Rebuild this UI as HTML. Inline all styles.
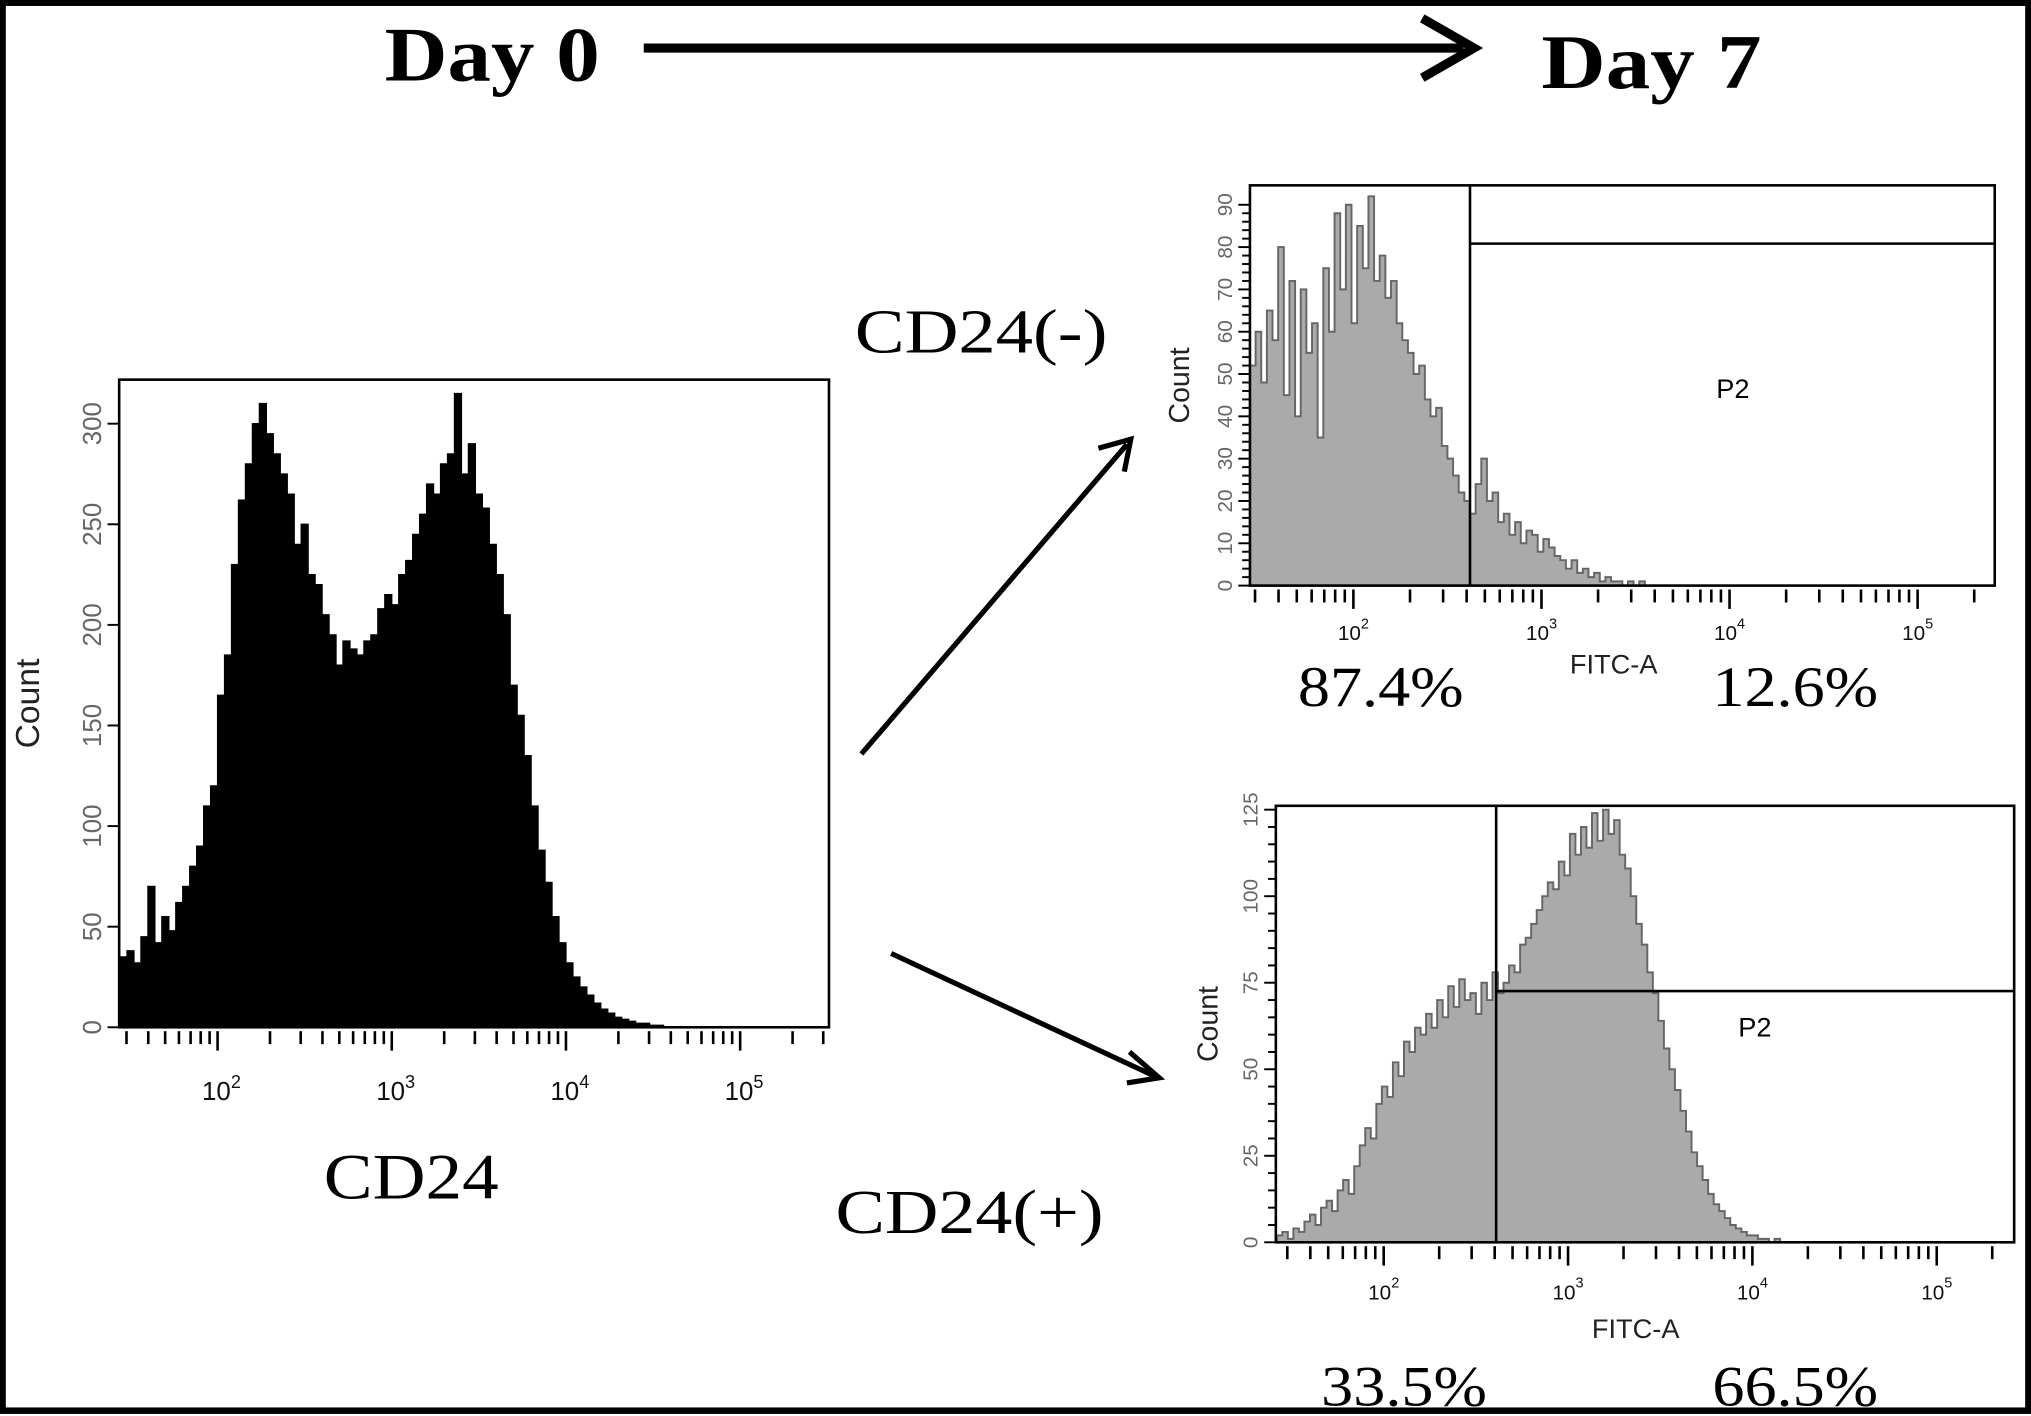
<!DOCTYPE html>
<html><head><meta charset="utf-8"><style>
html,body{margin:0;padding:0;background:#fff;}
svg{display:block;}
</style></head><body>
<svg id="fig" width="2031" height="1416" viewBox="0 0 1568 1093" xmlns="http://www.w3.org/2000/svg" font-family="Liberation Sans, sans-serif">
<rect x="2" y="2" width="1564" height="1087" fill="#fff" stroke="#000" stroke-width="5"/>
<text x="297" y="62" font-family="Liberation Serif, serif" font-weight="bold" font-size="60" textLength="166" lengthAdjust="spacingAndGlyphs">Day 0</text>
<g>
<line x1="497" y1="37" x2="1130" y2="37" stroke="#000" stroke-width="7"/>
<polyline points="1098,14 1138,37 1098,60" fill="none" stroke="#000" stroke-width="7"/>
</g>
<text x="1190" y="68" font-family="Liberation Serif, serif" font-weight="bold" font-size="60" textLength="170" lengthAdjust="spacingAndGlyphs">Day 7</text>
<g>
<line x1="665" y1="582" x2="870" y2="343" stroke="#000" stroke-width="4"/>
<polyline points="848,346 873,339 868,364" fill="none" stroke="#000" stroke-width="4"/>
</g>
<g>
<line x1="688" y1="736" x2="892" y2="831" stroke="#000" stroke-width="4"/>
<polyline points="872,812 895,832 870,836" fill="none" stroke="#000" stroke-width="4"/>
</g>
<text x="660" y="272" font-family="Liberation Serif, serif" font-size="48" textLength="195" lengthAdjust="spacingAndGlyphs">CD24(-)</text>
<text x="645" y="952" font-family="Liberation Serif, serif" font-size="48" textLength="207" lengthAdjust="spacingAndGlyphs">CD24(+)</text>
<text x="250" y="925" font-family="Liberation Serif, serif" font-size="50" textLength="135" lengthAdjust="spacingAndGlyphs">CD24</text>
<text x="1002" y="545" font-family="Liberation Serif, serif" font-size="44" textLength="128" lengthAdjust="spacingAndGlyphs">87.4%</text>
<text x="1322" y="545" font-family="Liberation Serif, serif" font-size="44" textLength="128" lengthAdjust="spacingAndGlyphs">12.6%</text>
<text x="1020" y="1085" font-family="Liberation Serif, serif" font-size="44" textLength="128" lengthAdjust="spacingAndGlyphs">33.5%</text>
<text x="1322" y="1085" font-family="Liberation Serif, serif" font-size="44" textLength="128" lengthAdjust="spacingAndGlyphs">66.5%</text>
</svg>
<script>
// Day 0 histogram (log10 bins starting at 1.44, step 0.04)
const day0Start = 1.44, day0Step = 0.04;
const day0Counts = [35,38,32,45,70,42,55,48,62,70,80,90,110,120,165,185,230,262,280,300,310,295,285,275,265,240,250,225,220,205,195,180,192,188,185,192,195,208,215,210,225,232,245,255,270,265,280,285,315,275,290,265,258,240,225,205,170,155,135,110,88,72,55,42,32,25,20,16,12,9,7,5,4,3,2,2,1,1,0,0];
// CD24(-) day 7 (start 1.45, step 0.03)
const negStart = 1.45, negStep = 0.03;
const negCounts = [52,60,48,65,58,80,45,72,40,70,55,62,35,75,60,88,70,90,62,85,75,92,72,78,68,72,62,58,55,50,52,44,40,42,33,30,26,22,20,17,24,30,20,22,15,17,12,15,10,13,12,8,11,9,7,6,4,6,3,4,2,3,1,2,1,1,0,1,0,1,0,0,0];
// CD24(+) day 7 (start 1.42, step 0.03)
const posStart = 1.42, posStep = 0.03;
const posCounts = [2,3,1,4,3,6,8,5,10,12,9,15,18,14,22,28,33,30,40,45,42,52,48,58,55,62,60,66,62,70,65,74,68,76,70,72,66,75,70,78,72,75,80,78,86,88,92,96,100,104,102,110,106,118,112,120,114,124,116,125,118,122,112,108,100,92,86,78,72,64,56,50,44,38,32,26,22,18,14,11,9,7,5,4,3,2,2,1,1,0,1,0];
const day0YTicks = [0,50,100,150,200,250,300];
const negYTicks = [0,10,20,30,40,50,60,70,80,90];
const posYTicks = [0,25,50,75,100,125];
const decades = [2,3,4,5];

const NS = "http://www.w3.org/2000/svg";
const svg = document.getElementById('fig');
function mk(tag, attrs, parent){const e=document.createElementNS(NS,tag);for(const k in attrs)e.setAttribute(k,attrs[k]);(parent||svg).appendChild(e);return e;}

function drawPanel(p){
  const g = mk('g',{});
  
  
  const xs = v => p.x0 + (v - p.lmin) / (p.lmax - p.lmin) * (p.x1 - p.x0);
  const ys = v => p.yb - (v / p.ymax) * (p.yb - p.yt);
  let d = 'M' + xs(p.start) + ',' + ys(0);
  p.counts.forEach((c,i)=>{const a=xs(p.start+i*p.step), b=xs(p.start+(i+1)*p.step); d+=' L'+a+','+ys(c)+' L'+b+','+ys(c);});
  d += ' L' + xs(p.start + p.counts.length*p.step) + ',' + ys(0) + ' Z';
  const h = mk('path',{d:d, fill:p.fill, stroke:p.stroke, 'stroke-width':p.sw}, g);
  
  
  const fr = mk('rect',{x:p.x0,y:p.yt0,width:p.x1-p.x0,height:p.yb-p.yt0,fill:'none',stroke:'#000','stroke-width':2}, g);
  
  
  for(let dec=1; dec<=5; dec++){
    for(let m=1;m<=9;m++){
      const lv = dec + Math.log10(m);
      if(lv < p.lmin || lv > p.lmax) continue;
      const x = xs(lv);
      mk('line',{x1:x,y1:p.yb+3,x2:x,y2:p.yb+(m===1?18:13),stroke:'#000','stroke-width':2}, g);
    }
  }
  decades.forEach(dec=>{
    const x = xs(dec);
    const t = mk('text',{x:x-12,y:p.yb+p.lblOff,'font-size':p.fs,fill:'#111'}, g);
    t.textContent = '10';
    
    
    const s = mk('tspan',{dy:-9,'font-size':p.fs*0.7}, t);
    s.textContent = String(dec);
  });
  for(let v=0; v<=p.ymax; v+=p.minor){
    const y = ys(v);
    if(y < p.yt0) break;
    mk('line',{x1:p.x0-(v%p.major===0?9:6),y1:y,x2:p.x0,y2:y,stroke:'#000','stroke-width':1.5}, g);
  }
  p.yticks.forEach(v=>{
    const y = ys(v);
    const t = mk('text',{x:0,y:0,'font-size':p.fs,fill:'#666','text-anchor':'middle',transform:'translate('+(p.x0-14)+','+y+') rotate(-90)'}, g);
    t.textContent = String(v);
    
    
  });
  const yl = mk('text',{x:0,y:0,'font-size':p.fs+6,'text-anchor':'middle',fill:'#222',transform:'translate('+p.ylabX+','+((p.yt0+p.yb)/2)+') rotate(-90)'}, g);
  yl.textContent = 'Count';
  
  
  if(p.gateLog){
    const gx = xs(p.gateLog);
    const gl = mk('line',{x1:gx,y1:p.yt0,x2:gx,y2:p.yb,stroke:'#000','stroke-width':2}, g);
    
    
    const gh = mk('line',{x1:gx,y1:p.gateY,x2:p.x1,y2:p.gateY,stroke:'#000','stroke-width':2}, g);
    
    
    const pt = mk('text',{x:p.p2x,y:p.p2y,'font-size':21}, g);
    pt.textContent = 'P2';
    
    
    const fx = mk('text',{x:p.fitcX,y:p.fitcY,'font-size':21,fill:'#222'}, g);
    fx.textContent = 'FITC-A';
    
    
  }
}

drawPanel({name:'day0-histogram', x0:92,x1:640,yt0:293,yt:327,yb:793,ymax:300,lmin:1.435,lmax:5.51,
  start:day0Start,step:day0Step,counts:day0Counts,fill:'#000',stroke:'#000',sw:1,
  yticks:day0YTicks,minor:50,major:50,fs:20,lblOff:56,ylabX:30});
drawPanel({name:'cd24-negative-histogram', x0:965,x1:1540,yt0:143,yt:158,yb:452,ymax:90,lmin:1.45,lmax:5.41,
  start:negStart,step:negStep,counts:negCounts,fill:'#aaa',stroke:'#666',sw:1.5,
  yticks:negYTicks,minor:2,major:10,fs:16,lblOff:42,ylabX:918,
  gateLog:2.62,gateY:188,p2x:1325,p2y:307,fitcX:1212,fitcY:520});
drawPanel({name:'cd24-positive-histogram', x0:985,x1:1555,yt0:622,yt:625,yb:959,ymax:125,lmin:1.415,lmax:5.42,
  start:posStart,step:posStep,counts:posCounts,fill:'#aaa',stroke:'#666',sw:1.5,
  yticks:posYTicks,minor:5,major:25,fs:16,lblOff:44,ylabX:940,
  gateLog:2.61,gateY:765,p2x:1342,p2y:800,fitcX:1229,fitcY:1033});
</script>
</body></html>
